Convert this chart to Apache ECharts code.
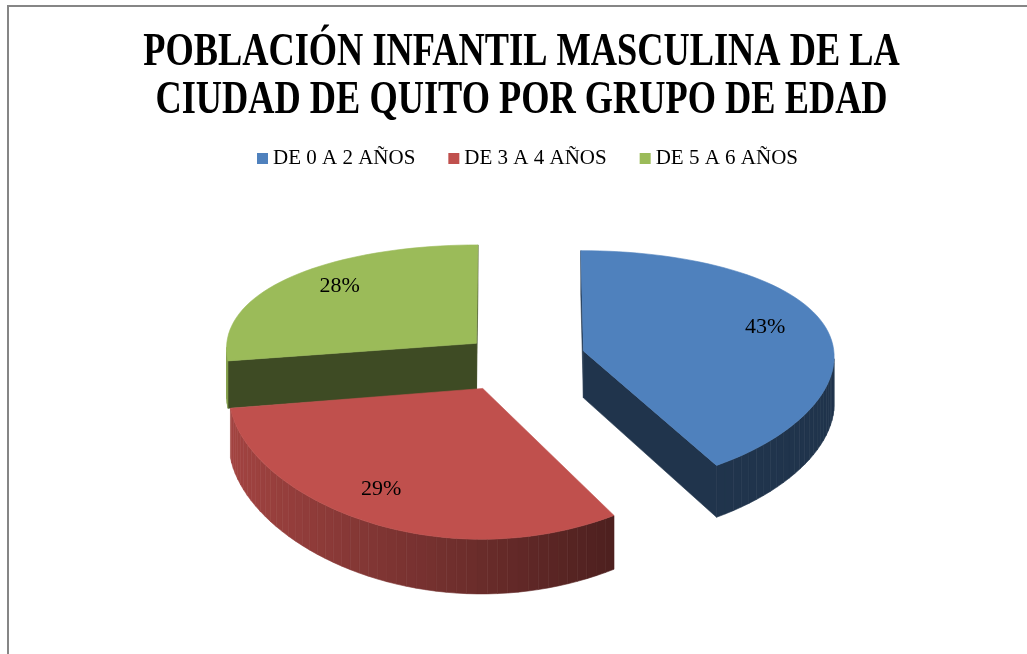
<!DOCTYPE html>
<html>
<head>
<meta charset="utf-8">
<script src="https://cdn.jsdelivr.net/npm/echarts@6/dist/echarts.min.js"></script>
<style>
	html, body { margin: 0; padding: 0; background: #fff; }
	#chart { width: 1027px; height: 654px; }
</style>
</head>
<body>
<div id="chart"></div>
<script>
var categories = ["DE 0 A 2 AÑOS", "DE 3 A 4 AÑOS", "DE 5 A 6 AÑOS"];
var shares = [43, 29, 28];
var colors = ["#4f81bd", "#c0504d", "#9bbb59"];
var titleLines = ["POBLACIÓN INFANTIL MASCULINA DE LA", "CIUDAD DE QUITO POR GRUPO DE EDAD"];

// fake 3d pie: tilted disc, perspective mostly on depth
var CX = 515, CY = 358, RX = 251, KX = 0.04;
var F = 1534, D = 5.875, SIN = 0.45, COS = 0.893;
var DEPTH = 0.206, LABEL_R = 0.75, WARP = 1.24;
var explode = [0.28, 0.28, 0.2];
var labelNudge = [[0, -5], [-12, 6], [4, -7]];

var total = shares.reduce(function (a, b) { return a + b; }, 0);

function project(X, Z, h) {
	var s = Z * SIN + h * COS;
	var d = D + Z * COS - h * SIN;
	return [CX + RX * X / (1 + KX * Z), CY - F * s / d, d];
}

// excel's 3d pie stretches the slice edges sideways a bit
function warp(t) {
	var w = Math.atan2(WARP * Math.sin(t), Math.cos(t));
	while (w < t - Math.PI) w += Math.PI * 2;
	return w;
}

function shade(hex, f) {
	var n = parseInt(hex.slice(1), 16);
	var r = Math.round(((n >> 16) & 255) * f);
	var g = Math.round(((n >> 8) & 255) * f);
	var b = Math.round((n & 255) * f);
	return "rgb(" + r + "," + g + "," + b + ")";
}

function area(pts) {
	var s = 0;
	for (var i = 0; i < pts.length; i++) {
		var p = pts[i], q = pts[(i + 1) % pts.length];
		s += p[0] * q[1] - q[0] * p[1];
	}
	return s;
}

function renderSlice(params, api) {
	var idx = api.value(0);
	var v = api.value(1);
	var before = 0;
	for (var k = 0; k < idx; k++) before += shares[k];
	var a0 = before / total * Math.PI * 2;
	var a1 = (before + v) / total * Math.PI * 2;
	var mid = (a0 + a1) / 2;
	var ox = explode[idx] * Math.sin(mid), oz = explode[idx] * Math.cos(mid);
	var color = colors[idx];
	var w0 = warp(a0), w1 = warp(a1);

	function pt(t, r, h) {
		return project(ox + r * Math.sin(t), oz + r * Math.cos(t), h);
	}

	var faces = [];
	function addFace(pts, fill) {
		var p2 = pts.map(function (p) { return [p[0], p[1]]; });
		if (area(p2) >= 0) return;
		var d = 0;
		pts.forEach(function (p) { d += p[2]; });
		faces.push({ pts: p2, d: d / pts.length, fill: fill });
	}

	var n = Math.max(8, Math.ceil((w1 - w0) / (Math.PI * 2) * 160));
	for (var j = 0; j < n; j++) {
		var t0 = w0 + (w1 - w0) * j / n;
		var t1 = w0 + (w1 - w0) * (j + 1) / n;
		var tm = (t0 + t1) / 2;
		var f = Math.max(0.4, 0.55 - 0.3 * Math.sin(tm));
		addFace([pt(t0, 1, 0), pt(t1, 1, 0), pt(t1, 1, -DEPTH), pt(t0, 1, -DEPTH)], shade(color, f));
	}
	addFace([pt(0, 0, 0), pt(w0, 1, 0), pt(w0, 1, -DEPTH), pt(0, 0, -DEPTH)], shade(color, 0.4));
	addFace([pt(w1, 1, 0), pt(0, 0, 0), pt(0, 0, -DEPTH), pt(w1, 1, -DEPTH)], shade(color, 0.4));

	var children = faces.map(function (fc) {
		return {
			type: "polygon",
			shape: { points: fc.pts },
			style: { fill: fc.fill, stroke: fc.fill, lineWidth: 0.6 },
			z2: 10000 - fc.d * 1000
		};
	});

	var top = [pt(0, 0, 0)];
	for (var m = 0; m <= n; m++) top.push(pt(w0 + (w1 - w0) * m / n, 1, 0));
	children.push({
		type: "polygon",
		shape: { points: top.map(function (p) { return [p[0], p[1]]; }) },
		style: { fill: color, stroke: color, lineWidth: 0.6 },
		z2: 20000
	});

	var lp = pt(mid, LABEL_R, 0);
	children.push({
		type: "text",
		x: lp[0] + labelNudge[idx][0],
		y: lp[1] + labelNudge[idx][1],
		style: {
			text: Math.round(v / total * 100) + "%",
			fontFamily: "Liberation Serif",
			fontSize: 22,
			fill: "#000",
			align: "center",
			verticalAlign: "middle"
		},
		z2: 30000
	});

	return { type: "group", children: children };
}

var chart = echarts.init(document.getElementById("chart"));

var series = categories.map(function (name, i) {
	return {
		name: name,
		type: "custom",
		coordinateSystem: "none",
		color: colors[i],
		renderItem: renderSlice,
		data: [[i, shares[i]]]
	};
});

var titleGraphics = titleLines.map(function (line, i) {
	return {
		type: "text",
		x: 521.5,
		y: 53 + i * 48,
		scaleX: 0.79,
		style: {
			text: line,
			fontFamily: "Liberation Serif",
			fontWeight: "bold",
			fontSize: 46,
			fill: "#000",
			align: "center",
			verticalAlign: "middle"
		},
		silent: true
	};
});

chart.setOption({
	backgroundColor: "#fff",
	animation: false,
	legend: {
		data: categories,
		top: 148,
		left: 257,
		padding: 0,
		icon: "rect",
		itemWidth: 11,
		itemHeight: 11,
		itemGap: 33,
		textStyle: {
			fontFamily: "Liberation Serif",
			fontSize: 21,
			color: "#000"
		}
	},
	graphic: [{
		type: "rect",
		shape: { x: 8, y: 6, width: 1040, height: 670 },
		style: { fill: "none", stroke: "#868686", lineWidth: 2 },
		silent: true
	}].concat(titleGraphics),
	series: series
});
</script>
</body>
</html>
